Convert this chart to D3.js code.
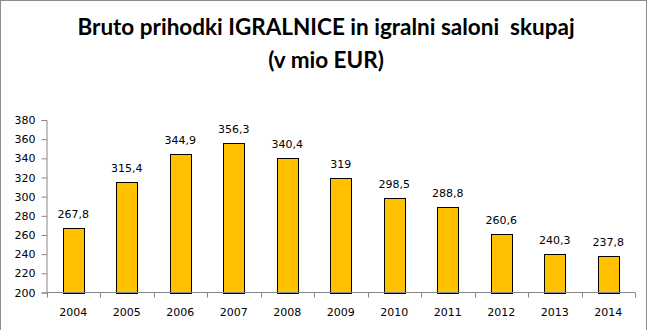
<!DOCTYPE html>
<html>
<head>
<meta charset="utf-8">
<script src="https://cdn.jsdelivr.net/npm/d3@7"></script>
<style>
  html, body { margin: 0; padding: 0; background: #fff; }
  svg { display: block; }
</style>
</head>
<body>
<svg id="chart" width="648" height="330"></svg>
<script>
// Gross revenue of casinos and gaming halls combined, million EUR
const years = ["2004", "2005", "2006", "2007", "2008", "2009", "2010", "2011", "2012", "2013", "2014"];
const revenue = [267.8, 315.4, 344.9, 356.3, 340.4, 319, 298.5, 288.8, 260.6, 240.3, 237.8];
const valueLabels = ["267,8", "315,4", "344,9", "356,3", "340,4", "319", "298,5", "288,8", "260,6", "240,3", "237,8"];
const yTicks = [200, 220, 240, 260, 280, 300, 320, 340, 360, 380];
const titleLines = ["Bruto prihodki IGRALNICE in igralni saloni  skupaj", "(v mio EUR)"];

const svg = d3.select("#chart");
const W = 648, H = 330;
const plot = { left: 46.5, right: 635, top: 120, bottom: 292.5 };
const axisColor = "#868686";
const labelFont = "'DejaVu Sans', Verdana, sans-serif";
const labelSize = 11;

// outer frame
svg.append("rect")
  .attr("x", 0.5).attr("y", 0.5)
  .attr("width", W - 2).attr("height", H + 5)
  .attr("fill", "#fff")
  .attr("stroke", "#8c8c8c").attr("stroke-width", 1);

// title (keeps the double space)
svg.append("g").selectAll("text")
  .data(titleLines)
  .join("text")
  .attr("x", 326)
  .attr("y", (d, i) => 35 + i * 33)
  .attr("text-anchor", "middle")
  .attr("font-family", "Lato, 'Open Sans', sans-serif")
  .attr("font-weight", "bold")
  .attr("font-size", 22.5)
  .attr("fill", "#000")
  .style("white-space", "pre")
  .text(d => d);

const x = d3.scaleBand()
  .domain(years)
  .range([plot.left, plot.right])
  .padding(0);

const y = d3.scaleLinear()
  .domain([200, 380])
  .range([plot.bottom, plot.top]);

const barW = x.bandwidth() * 0.4;

// bars
svg.append("g").selectAll("rect")
  .data(revenue)
  .join("rect")
  .attr("x", (d, i) => Math.round(x(years[i]) + x.bandwidth() / 2 - barW / 2) + 0.5)
  .attr("y", d => Math.round(y(d)) + 0.5)
  .attr("width", Math.round(barW))
  .attr("height", d => Math.round(y(200)) - Math.round(y(d)))
  .attr("fill", "#FFC000")
  .attr("stroke", "#000")
  .attr("stroke-width", 1);

// value labels
svg.append("g").selectAll("text")
  .data(revenue)
  .join("text")
  .attr("x", (d, i) => x(years[i]) + x.bandwidth() / 2)
  .attr("y", d => y(d) - 10)
  .attr("text-anchor", "middle")
  .attr("font-family", labelFont)
  .attr("font-size", labelSize)
  .attr("fill", "#000")
  .text((d, i) => valueLabels[i]);

// y axis
const yAxis = svg.append("g")
  .attr("transform", `translate(${plot.left},0)`)
  .call(d3.axisLeft(y).tickValues(yTicks).tickSize(5).tickPadding(6).tickFormat(d3.format("d")));
yAxis.select(".domain").attr("stroke", axisColor);
yAxis.selectAll(".tick line").attr("stroke", axisColor);
yAxis.selectAll(".tick text")
  .attr("font-family", labelFont)
  .attr("font-size", labelSize)
  .attr("fill", "#000");

// x axis: ticks sit on category boundaries
const xAxisG = svg.append("g")
  .attr("transform", `translate(0,${plot.bottom})`);
xAxisG.append("line")
  .attr("x1", plot.left).attr("x2", plot.right)
  .attr("stroke", axisColor);
const boundaries = years.map(d => x(d)).concat([plot.right]);
xAxisG.selectAll("line.tk")
  .data(boundaries)
  .join("line")
  .attr("class", "tk")
  .attr("x1", d => Math.round(d) + 0.5).attr("x2", d => Math.round(d) + 0.5)
  .attr("y1", 0).attr("y2", 5)
  .attr("stroke", axisColor);
xAxisG.selectAll("text")
  .data(years)
  .join("text")
  .attr("x", d => x(d) + x.bandwidth() / 2)
  .attr("y", 23.5)
  .attr("text-anchor", "middle")
  .attr("font-family", labelFont)
  .attr("font-size", labelSize)
  .attr("fill", "#000")
  .text(d => d);
</script>
</body>
</html>
